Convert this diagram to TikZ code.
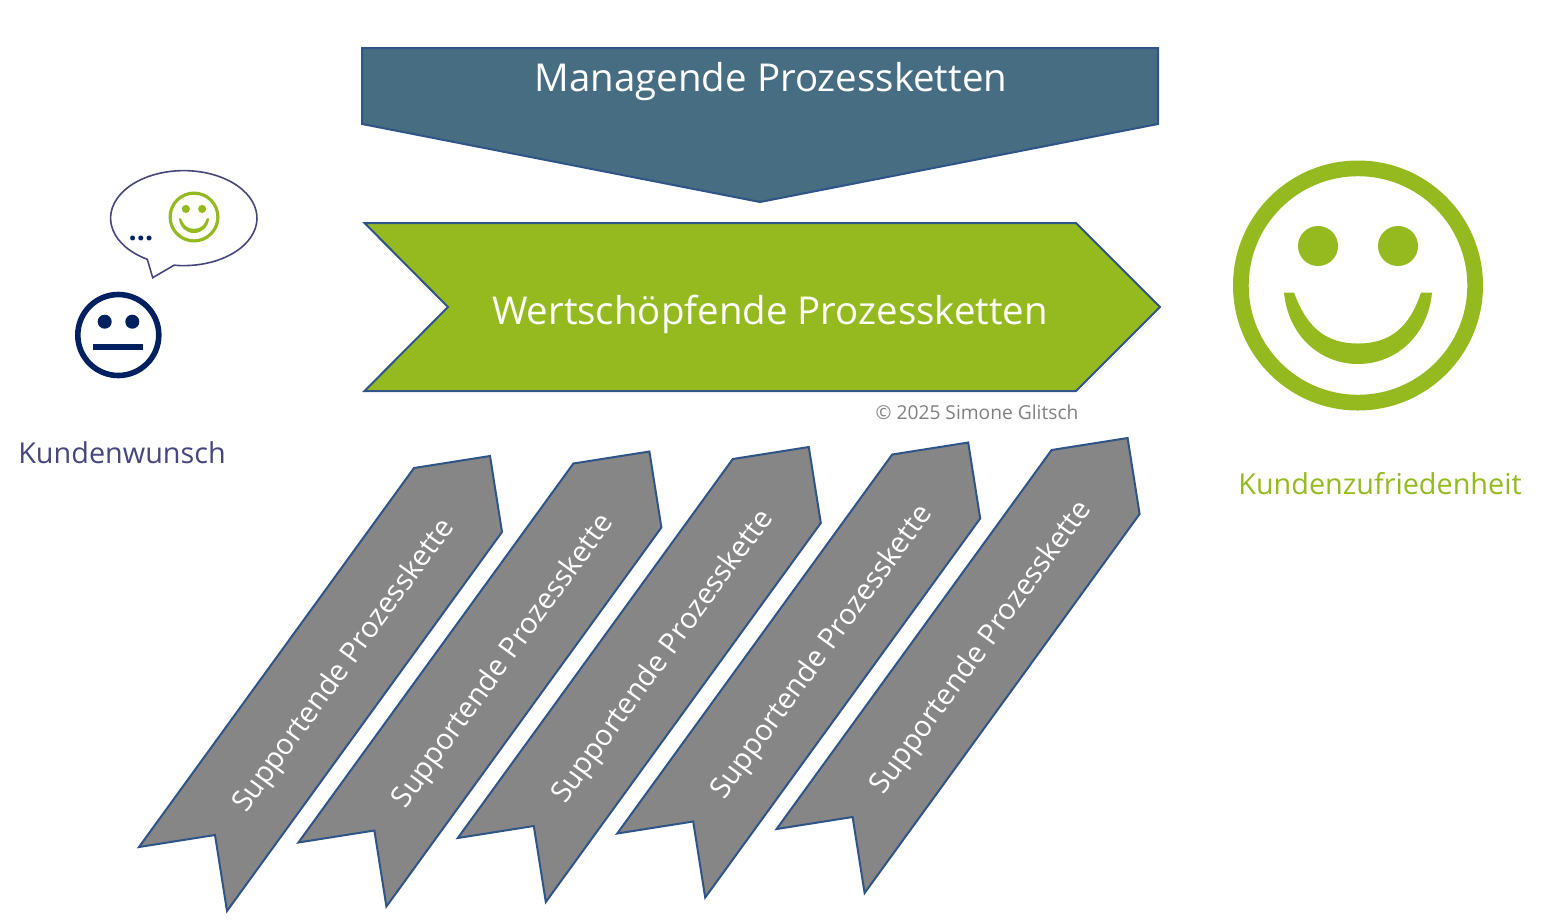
\documentclass[tikz,border=0pt]{standalone}
\usepackage{fontspec}
\setmainfont{Open Sans}
\usepackage{tikz}
\usetikzlibrary{positioning}
\definecolor{mgmtblue}{HTML}{476D83}
\definecolor{chaingreen}{HTML}{94BA1F}
\definecolor{chaingray}{HTML}{868686}
\definecolor{edgeblue}{HTML}{2F5487}
\definecolor{navy}{HTML}{002060}
\definecolor{wishblue}{HTML}{46477C}
\tikzstyle{chainshape} = [draw=edgeblue, line width=1.5pt, line join=miter]
\tikzstyle{chainlabel} = [text=white, inner sep=0pt, font=\fontsize{28.8}{34}\selectfont]
\tikzstyle{supportlabel} = [text=white, inner sep=0pt, rotate=54, font=\fontsize{21.7}{26}\selectfont]
\tikzstyle{sidelabel} = [inner sep=0pt, font=\fontsize{21.6}{26}\selectfont]
\tikzset{smiley/.pic={
  \fill[chaingreen,even odd rule] (0,0) circle (125) (0,0) circle (109.3);
  \fill[chaingreen] (-40,-39.5) circle (20) (40,-39.5) circle (20);
  \fill[chaingreen] (-74,7) .. controls (-70,50) and (-38,78.5) .. (0,78.5)
                    .. controls (38,78.5) and (70,50) .. (74,7) -- (63,7)
                    .. controls (52,40) and (34,58) .. (0,58)
                    .. controls (-34,58) and (-52,40) .. (-64,7) -- cycle;
}}
\begin{document}
\begin{tikzpicture}[x=0.75pt,y=-0.75pt]
 \useasboundingbox (0,0) rectangle (1552,922);
% management and value chains
 \fill[mgmtblue,chainshape] (362,48) -- (1158,48) -- (1158,124) -- (760,202) -- (362,124) -- cycle;
 \node[chainlabel] (mgmt) at (771,82) {Managende Prozessketten};
 \fill[chaingreen,chainshape] (364.5,223) -- (1076,223) -- (1160,307) -- (1076,391) -- (364.5,391) -- (448,307) -- cycle;
 \node[chainlabel] (value) at (770,314) {Wertschöpfende Prozessketten};
 \node[inner sep=0pt, text=gray, font=\fontsize{14.4}{17}\selectfont] (copyright) at (977,412) {© 2025 Simone Glitsch};
% support chains
 \foreach \i in {0,...,4} {
   \begin{scope}[shift={(\i*159.4,-\i*4.5)}]
     \fill[chaingray,chainshape] (414,468) -- (490,456) -- (502,532) -- (227,911) -- (215,835) -- (139,847) -- cycle;
     \node[supportlabel] (support\i) at (344.5,666) {Supportende Prozesskette};
   \end{scope}
 }
% customer wish
 \draw[wishblue,line width=1.2pt,fill=white] (147.3,259.3) arc[start angle=119.9,end angle=457.6,x radius=73.2,y radius=47.5] -- (152.7,277.7) -- cycle;
 \pic[scale=0.204] (wishsmile) at (194,217) {smiley};
 \node[inner sep=0pt, text=navy, font=\fontsize{21.5}{26}\selectfont\bfseries] (dots) at (141,238.5) {...};
 \draw[navy,line width=4.2pt] (118.3,335) circle (40.5);
 \fill[navy] (104.7,321.7) circle (7) (132.3,321.7) circle (7);
 \fill[navy] (93.3,344.3) rectangle (143.3,350.3);
 \node[sidelabel,text=wishblue] (wish) at (122,453) {Kundenwunsch};
% customer satisfaction
 \pic (bigsmile) at (1358,285.5) {smiley};
 \node[sidelabel,text=chaingreen] (satisfaction) at (1380,484) {Kundenzufriedenheit};
\end{tikzpicture}
\end{document}
